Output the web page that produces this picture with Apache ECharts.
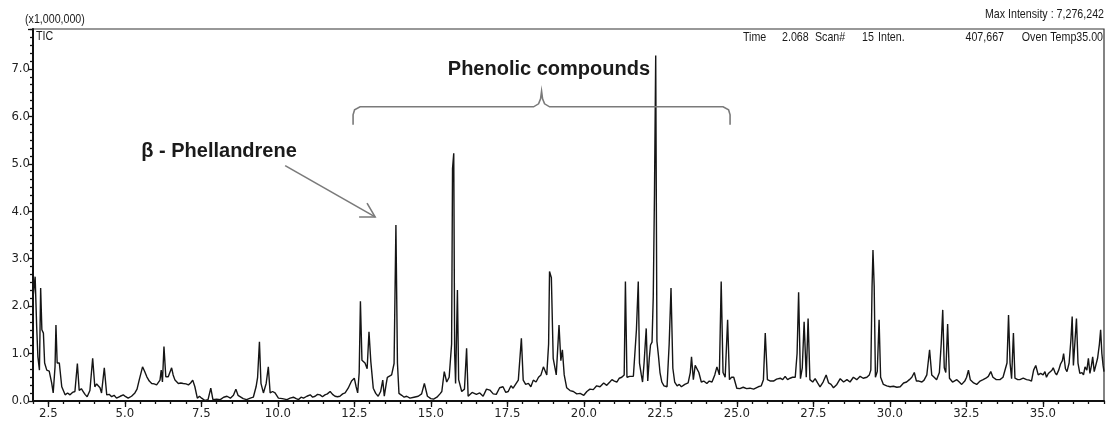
<!DOCTYPE html>
<html><head><meta charset="utf-8">
<script src="https://cdn.jsdelivr.net/npm/echarts@6/dist/echarts.min.js"></script>
<style>html,body{margin:0;padding:0;background:#fff;}#chart{width:1110px;height:431px;}</style>
</head><body><div id="chart"></div>
<script>
// Retention time (min) and TIC intensity (x1,000,000)
const retentionTimes = [
2.00,2.07,2.12,2.16,2.21,2.25,2.29,2.34,2.38,2.45,2.53,2.61,2.66,2.72,2.75,2.79,2.86,2.94,3.05,3.13,
3.21,3.29,3.37,3.45,3.51,3.58,3.64,3.70,3.77,3.86,3.95,4.02,4.08,4.13,4.19,4.24,4.33,4.41,4.49,4.57,
4.65,4.73,4.85,4.95,5.03,5.11,5.22,5.33,5.40,5.47,5.58,5.65,5.72,5.80,5.88,5.96,6.04,6.10,6.15,6.19,
6.23,6.28,6.34,6.42,6.48,6.53,6.58,6.64,6.70,6.75,6.83,6.91,7.00,7.08,7.15,7.22,7.29,7.37,7.44,7.51,
7.62,7.72,7.81,7.88,8.00,8.12,8.23,8.34,8.45,8.55,8.63,8.70,8.76,8.87,8.98,9.10,9.20,9.29,9.34,9.40,
9.45,9.53,9.62,9.69,9.75,9.83,9.91,10.02,10.15,10.30,10.40,10.51,10.60,10.68,10.76,10.84,10.95,11.06,11.14,11.22,
11.30,11.38,11.46,11.54,11.62,11.71,11.79,11.87,11.95,12.03,12.12,12.20,12.30,12.41,12.50,12.56,12.61,12.66,12.70,12.75,
12.80,12.85,12.92,12.98,13.04,13.12,13.20,13.28,13.36,13.43,13.48,13.54,13.58,13.64,13.72,13.80,13.86,13.91,13.96,14.05,
14.13,14.21,14.32,14.45,14.59,14.70,14.79,14.89,15.00,15.09,15.20,15.30,15.36,15.44,15.52,15.60,15.68,15.71,15.75,15.78,
15.81,15.87,15.91,16.01,16.10,16.17,16.22,16.35,16.49,16.60,16.71,16.82,16.93,17.04,17.14,17.25,17.36,17.45,17.53,17.62,
17.69,17.78,17.86,17.96,18.02,18.10,18.19,18.27,18.35,18.44,18.52,18.60,18.68,18.79,18.85,18.88,18.94,19.00,19.10,19.19,
19.25,19.30,19.36,19.44,19.55,19.66,19.77,19.88,20.00,20.10,20.20,20.31,20.42,20.53,20.65,20.75,20.85,20.92,21.00,21.08,
21.16,21.24,21.32,21.36,21.41,21.50,21.56,21.62,21.67,21.72,21.78,21.82,21.88,21.92,21.97,22.04,22.09,22.14,22.18,22.23,
22.27,22.31,22.35,22.39,22.44,22.49,22.55,22.62,22.72,22.79,22.85,22.91,22.97,23.05,23.12,23.19,23.30,23.41,23.48,23.52,
23.58,23.64,23.69,23.76,23.84,23.92,24.02,24.10,24.19,24.28,24.35,24.43,24.49,24.55,24.62,24.70,24.76,24.83,24.90,25.00,
25.10,25.21,25.32,25.43,25.55,25.70,25.80,25.87,25.93,26.00,26.10,26.20,26.30,26.42,26.50,26.58,26.66,26.74,26.82,26.91,
26.97,27.02,27.08,27.14,27.20,27.27,27.33,27.39,27.48,27.56,27.64,27.72,27.82,27.92,28.00,28.08,28.16,28.27,28.38,28.49,
28.60,28.70,28.81,28.92,29.03,29.13,29.25,29.33,29.38,29.42,29.45,29.49,29.53,29.59,29.65,29.70,29.79,29.90,30.01,30.12,
30.23,30.34,30.45,30.55,30.64,30.72,30.80,30.87,30.95,31.05,31.12,31.21,31.30,31.37,31.45,31.53,31.62,31.68,31.73,31.78,
31.83,31.89,31.95,32.05,32.19,32.27,32.35,32.45,32.51,32.57,32.63,32.74,32.84,32.95,33.05,33.14,33.22,33.30,33.37,33.48,
33.60,33.70,33.76,33.83,33.88,33.93,33.98,34.04,34.09,34.18,34.25,34.36,34.47,34.56,34.63,34.70,34.77,34.85,34.93,35.01,
35.07,35.12,35.18,35.23,35.30,35.34,35.40,35.45,35.52,35.58,35.64,35.68,35.74,35.79,35.86,35.92,35.96,36.00,36.05,36.10,
36.15,36.21,36.28,36.33,36.38,36.44,36.49,36.54,36.59,36.63,36.68,36.73,36.79,36.85,36.89,36.93,36.97,37.00
];
const intensities = [
2.17,2.62,1.57,0.93,0.65,2.38,1.50,1.43,0.80,0.65,0.63,0.38,0.17,0.72,1.60,0.80,0.80,0.30,0.13,0.17,
0.13,0.18,0.20,0.79,0.22,0.26,0.20,0.14,0.09,0.22,0.90,0.30,0.36,0.34,0.28,0.17,0.70,0.13,0.14,0.09,
0.12,0.06,0.10,0.13,0.09,0.06,0.10,0.17,0.25,0.44,0.72,0.62,0.51,0.42,0.37,0.36,0.34,0.38,0.44,0.65,
0.40,1.15,0.51,0.51,0.55,0.70,0.55,0.44,0.40,0.37,0.38,0.37,0.36,0.34,0.38,0.44,0.30,0.06,0.10,0.06,
0.01,0.03,0.27,0.03,0.04,0.03,0.08,0.10,0.06,0.12,0.25,0.12,0.08,0.05,0.03,0.06,0.08,0.30,0.50,1.25,
0.37,0.17,0.37,0.72,0.17,0.20,0.17,0.06,0.05,0.03,0.06,0.08,0.05,0.03,0.08,0.06,0.10,0.13,0.08,0.10,
0.14,0.13,0.09,0.13,0.15,0.20,0.14,0.10,0.09,0.10,0.15,0.17,0.27,0.42,0.48,0.30,0.17,0.60,2.10,0.86,
0.83,0.80,0.68,1.46,0.83,0.27,0.16,0.10,0.20,0.44,0.10,0.35,0.50,0.52,0.55,0.79,3.71,0.80,0.16,0.12,
0.08,0.10,0.06,0.08,0.10,0.15,0.37,0.10,0.05,0.04,0.08,0.15,0.20,0.62,0.40,0.50,1.20,4.90,5.22,1.00,
0.37,2.34,0.45,0.20,0.25,1.11,0.10,0.18,0.14,0.17,0.10,0.25,0.23,0.15,0.14,0.28,0.30,0.18,0.20,0.32,
0.27,0.36,0.44,1.32,0.44,0.35,0.37,0.30,0.44,0.40,0.50,0.55,0.72,0.55,1.20,2.73,2.60,0.90,0.55,1.60,
0.85,1.08,0.55,0.28,0.22,0.20,0.15,0.16,0.12,0.20,0.25,0.24,0.32,0.30,0.38,0.33,0.40,0.45,0.42,0.40,
0.48,0.50,0.55,2.52,0.50,0.52,0.48,0.52,0.56,1.50,2.52,0.80,0.55,0.40,0.80,1.53,0.42,0.90,1.18,1.24,
2.20,4.38,7.28,1.26,0.95,0.60,0.40,0.32,0.30,1.20,2.38,0.69,0.40,0.32,0.35,0.30,0.35,0.38,0.60,0.93,
0.45,0.75,0.79,0.60,0.40,0.42,0.37,0.42,0.40,0.55,0.72,0.55,2.52,0.60,0.50,1.71,0.45,0.50,0.50,0.27,
0.26,0.29,0.26,0.27,0.25,0.30,0.32,0.45,1.43,0.45,0.42,0.42,0.46,0.48,0.45,0.52,0.45,0.48,0.50,0.50,
1.00,2.29,0.47,0.70,1.67,0.50,1.74,0.45,0.40,0.47,0.38,0.30,0.40,0.55,0.38,0.35,0.28,0.35,0.47,0.40,
0.45,0.40,0.50,0.45,0.52,0.48,0.50,0.55,0.65,2.41,3.18,2.41,0.50,0.62,1.71,0.50,0.35,0.32,0.30,0.31,
0.29,0.30,0.38,0.40,0.45,0.50,0.60,0.42,0.42,0.40,0.44,0.55,1.08,0.55,0.50,0.45,0.60,1.20,1.92,0.70,
0.60,1.62,0.48,0.40,0.45,0.40,0.35,0.42,0.50,0.65,0.45,0.38,0.35,0.42,0.45,0.48,0.52,0.62,0.50,0.45,
0.45,0.50,0.50,0.80,1.81,0.80,0.47,1.43,0.48,0.45,0.45,0.48,0.45,0.44,0.42,0.65,0.75,0.55,0.58,0.55,
0.62,0.50,0.58,0.60,0.65,0.70,0.60,0.55,0.65,0.78,0.85,1.00,0.68,0.62,0.80,1.30,1.78,0.75,1.25,1.74,
0.80,0.58,0.60,0.55,0.72,0.65,0.90,0.58,0.75,0.93,0.62,0.60,0.90,1.20,1.50,1.00,0.75,0.62
];
const xTickLabels = [2.5,5.0,7.5,10.0,12.5,15.0,17.5,20.0,22.5,25.0,27.5,30.0,32.5,35.0];

const AXFONT = "'DejaVu Sans Condensed','Liberation Sans',sans-serif";
const NARROW = "'Liberation Sans',Arial,sans-serif";
const BOLD = "'Liberation Sans',Arial,sans-serif";

const seriesData = retentionTimes.map((t, i) => [t, intensities[i]]);

const chart = echarts.init(document.getElementById('chart'), null, {renderer: 'canvas'});
const axisColor = '#111';
chart.setOption({
  animation: false,
  backgroundColor: '#fff',
  grid: {left: 33, right: 6, top: 29, bottom: 30, show: true, borderColor: '#333', borderWidth: 1.2, containLabel: false},
  xAxis: [{
    type: 'value', min: 2.0, max: 37.0, interval: 0.5,
    axisLine: {show: true, onZero: false, lineStyle: {color: axisColor, width: 2}},
    axisTick: {show: true, length: 3, lineStyle: {color: axisColor, width: 1.3}},
    axisLabel: {show: true, customValues: xTickLabels, formatter: v => v.toFixed(1), fontFamily: AXFONT, fontSize: 13, color: '#222', margin: 6},
    splitLine: {show: false}
  }, {
    type: 'value', min: 2.0, max: 37.0, position: 'bottom',
    axisLine: {show: false, onZero: false},
    axisTick: {show: true, customValues: xTickLabels, length: 6, lineStyle: {color: axisColor, width: 1.3}},
    axisLabel: {show: false},
    splitLine: {show: false}
  }],
  yAxis: {
    type: 'value', min: 0, max: 7.84, interval: 1,
    axisLine: {show: true, onZero: false, lineStyle: {color: axisColor, width: 2}},
    axisTick: {show: true, length: 5, lineStyle: {color: axisColor, width: 1.3}},
    minorTick: {show: true, splitNumber: 6, length: 3, lineStyle: {color: axisColor, width: 1.3}},
    axisLabel: {formatter: v => v.toFixed(1), showMaxLabel: false, fontFamily: AXFONT, fontSize: 13, color: '#222', margin: 3},
    splitLine: {show: false}, minorSplitLine: {show: false}
  },
  series: [{
    type: 'line', xAxisIndex: 0, data: seriesData, symbol: 'none', silent: true,
    lineStyle: {color: '#151515', width: 1.4}
  }]
});

// Annotations in data coordinates
const brace = {leftT: 12.46, rightT: 24.78, midT: 18.62, armV: 5.82, barV: 6.20, tipV: 6.53};
const arrow = {from: [10.24, 4.96], to: [13.18, 3.88]};
const labelPhenolic = {text: 'Phenolic compounds', at: [18.86, 6.98]};
const labelPhell = {text: 'β - Phellandrene', at: [8.08, 5.25]};

const P = d => chart.convertToPixel({xAxisIndex: 0, yAxisIndex: 0}, d);
const L = P([brace.leftT, brace.armV]), R = P([brace.rightT, brace.armV]);
const barY = P([brace.leftT, brace.barV])[1], tipY = P([brace.midT, brace.tipV])[1], midX = P([brace.midT, brace.barV])[0];
const bracePts = [[L[0], L[1]], [L[0], barY + 8], [L[0] + 1.5, barY + 3], [L[0] + 7, barY], [midX - 8, barY], [midX - 3, barY - 3], [midX - 1, barY - 8], [midX, tipY],
  [midX + 1, barY - 8], [midX + 3, barY - 3], [midX + 8, barY], [R[0] - 7, barY], [R[0] - 1.5, barY + 3], [R[0], barY + 8], [R[0], R[1]]];
const A0 = P(arrow.from), A1 = P(arrow.to);
const ang = Math.atan2(A1[1] - A0[1], A1[0] - A0[0]);
const hl = 16, ha = Math.PI / 6;
const h1 = [A1[0] - hl * Math.cos(ang - ha), A1[1] - hl * Math.sin(ang - ha)];
const h2 = [A1[0] - hl * Math.cos(ang + ha), A1[1] - hl * Math.sin(ang + ha)];
const tP = P(labelPhenolic.at), tB = P(labelPhell.at);
const gray = '#7a7a7a';

function hdr(text, x, y, align) {
  return {type: 'text', x: x, y: y, scaleX: 0.82, scaleY: 1,
    style: {text: text, font: "13px " + NARROW, fill: '#1a1a1a', textAlign: align, textVerticalAlign: 'middle'}};
}

chart.setOption({
  graphic: [
    {type: 'polyline', shape: {points: bracePts, smooth: 0}, style: {stroke: gray, lineWidth: 1.6, fill: null}, z: 10},
    {type: 'line', shape: {x1: A0[0], y1: A0[1], x2: A1[0], y2: A1[1]}, style: {stroke: gray, lineWidth: 1.6}, z: 10},
    {type: 'polyline', shape: {points: [h1, A1, h2]}, style: {stroke: gray, lineWidth: 1.6, fill: null}, z: 10},
    {type: 'text', x: tP[0], y: tP[1], style: {text: labelPhenolic.text, font: "bold 20px " + BOLD, fill: '#1a1a1a', textAlign: 'center', textVerticalAlign: 'middle'}, z: 10},
    {type: 'text', x: tB[0], y: tB[1], style: {text: labelPhell.text, font: "bold 20px " + BOLD, fill: '#1a1a1a', textAlign: 'center', textVerticalAlign: 'middle'}, z: 10},
    hdr('(x1,000,000)', 25, 19, 'left'),
    hdr('TIC', 36, 36, 'left'),
    hdr('Max Intensity : 7,276,242', 1104, 14, 'right'),
    hdr('Time', 743, 37, 'left'),
    hdr('2.068', 782, 37, 'left'),
    hdr('Scan#', 815, 37, 'left'),
    hdr('15', 862, 37, 'left'),
    hdr('Inten.', 878, 37, 'left'),
    hdr('407,667', 1004, 37, 'right'),
    hdr('Oven Temp35.00', 1103, 37, 'right')
  ]
});
</script>
</body></html>
